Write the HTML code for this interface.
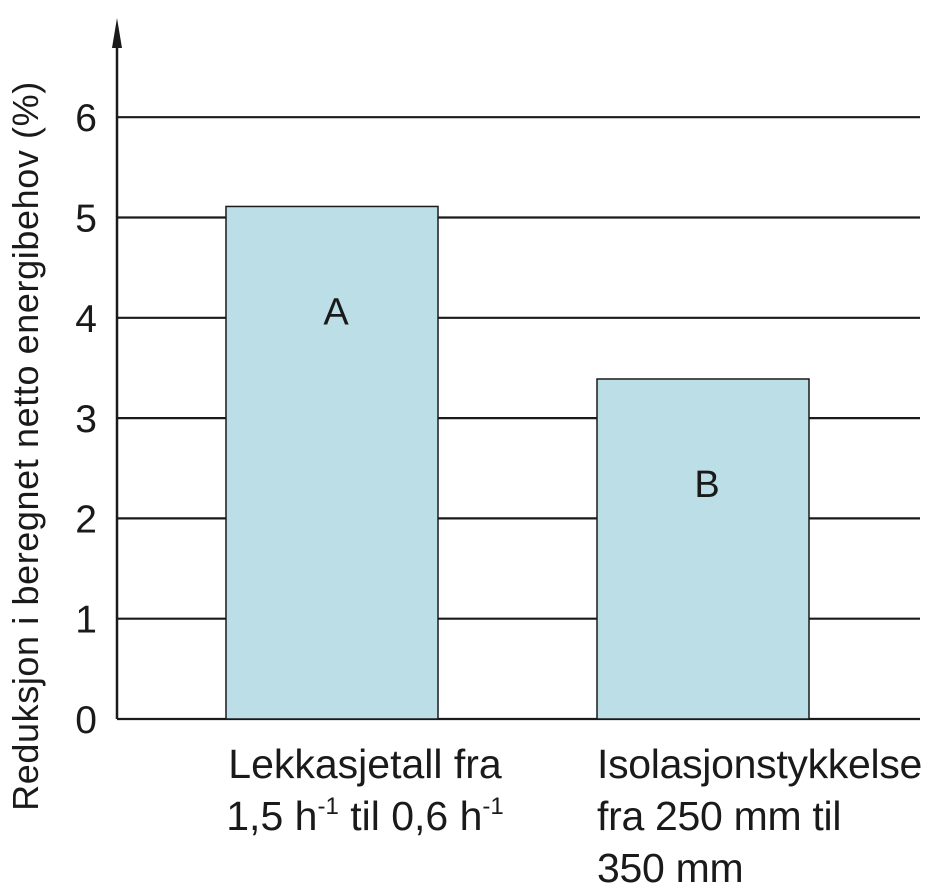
<!DOCTYPE html>
<html><head><meta charset="utf-8"><style>
body{margin:0;background:#fff;width:944px;height:884px;overflow:hidden}
svg{display:block}
text{font-family:"Liberation Sans",Arial,sans-serif;fill:#1a1a1a}
</style></head><body>
<svg id="chart" width="944" height="884"></svg>
<script>
const categories = ["A", "B"];
const values = [5.11, 3.39];
const tickLabels = ["0","1","2","3","4","5","6"];
const NS="http://www.w3.org/2000/svg";
const svg=document.getElementById('chart');
const x0=117, xEnd=920, yZero=719, pxPerUnit=100.3;
function yScale(v){return yZero - v*pxPerUnit;}
const barLeft=[226,597], barW=212;
function mk(tag,attrs,name,parent){const e=document.createElementNS(NS,tag);for(const k in attrs)e.setAttribute(k,attrs[k]);


(parent||svg).appendChild(e);return e;}
tickLabels.forEach((t,i)=>{const v=+t;const y=yScale(v);
 mk('line',{x1:x0,x2:xEnd,y1:y,y2:y,stroke:'#1a1a1a','stroke-width':2.2},'gridline-'+t);
 const tx=mk('text',{x:97,y:y+14,'font-size':39,'text-anchor':'end'},'y-tick-label-'+t);tx.textContent=t;});
categories.forEach((c,i)=>{const y=yScale(values[i]);
 mk('rect',{x:barLeft[i],y:y,width:barW,height:yZero-y,fill:'#bcdee7',stroke:'#1a1a1a','stroke-width':1.5},'bar-'+c.toLowerCase());
 const lab=mk('text',{x:barLeft[i]+barW/2+4,y:y+118,'font-size':38,'text-anchor':'middle'},'bar-label-'+c.toLowerCase());lab.textContent=c;});
mk('line',{x1:x0,x2:x0,y1:40,y2:yZero,stroke:'#1a1a1a','stroke-width':2.5},'y-axis');
mk('polygon',{points:'117,18 112,48 122,48',fill:'#1a1a1a'},'y-axis-arrow');
</script>
<div style="position:absolute;left:0;top:0;width:944px;height:884px;pointer-events:none">
<div style="position:absolute;left:26px;top:446px;width:0;height:0">
<div style="position:absolute;transform:translate(-50%,-50%) rotate(-90deg);white-space:nowrap;font:36px 'Liberation Sans',sans-serif;letter-spacing:0.6px;color:#1a1a1a">Reduksjon i beregnet netto energibehov (%)</div></div>
<div style="position:absolute;left:180px;top:738px;width:370px;text-align:center;font:41px/52px 'Liberation Sans',sans-serif;color:#1a1a1a">Lekkasjetall fra<br>1,5 h<sup style="font-size:24px;vertical-align:16px;line-height:0">-1</sup> til 0,6 h<sup style="font-size:24px;vertical-align:16px;line-height:0">-1</sup></div>
<div style="position:absolute;left:597px;top:738px;width:360px;white-space:nowrap;font:41px/52px 'Liberation Sans',sans-serif;letter-spacing:-0.3px;color:#1a1a1a">Isolasjonstykkelse<br>fra 250 mm til<br>350 mm</div>
</div>
</body></html>
